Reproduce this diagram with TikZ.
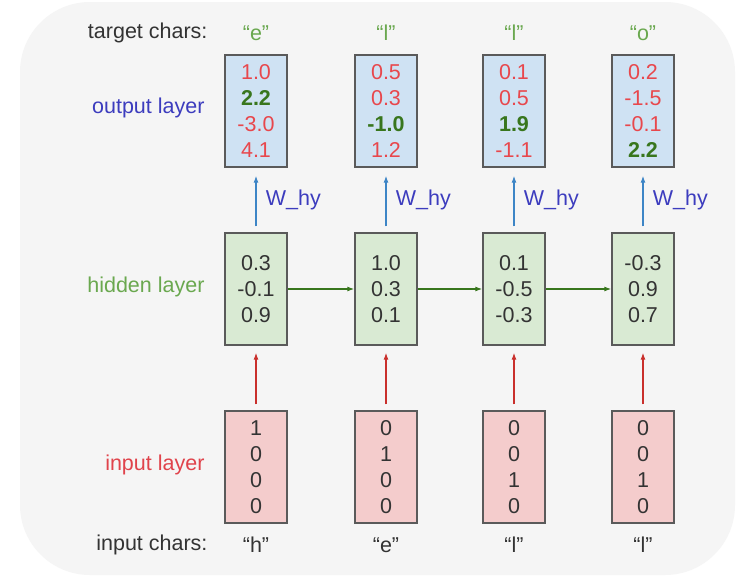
\documentclass[tikz,border=0pt]{standalone}
\usepackage{fontspec}
\setmainfont{Liberation Sans}
\usetikzlibrary{arrows.meta}
\definecolor{bggray}{HTML}{F5F5F5}
\definecolor{boxline}{HTML}{5A5A5A}
\definecolor{outfill}{HTML}{CFE2F3}
\definecolor{hidfill}{HTML}{D9EAD3}
\definecolor{infill}{HTML}{F4CCCC}
\definecolor{numred}{HTML}{E8474C}
\definecolor{numgreen}{HTML}{38761D}
\definecolor{labblue}{HTML}{3C3CBE}
\definecolor{labgreen}{HTML}{6AA84F}
\definecolor{labred}{HTML}{E0434B}
\definecolor{arrblue}{HTML}{3D85C6}
\definecolor{arrred}{HTML}{C9302C}
\definecolor{txtgray}{HTML}{333333}
\newcommand{\rn}[1]{\textcolor{numred}{#1}}
\newcommand{\gn}[1]{\textcolor{numgreen}{\textbf{#1}}}

\begin{document}
\begin{tikzpicture}[x=1pt,y=-1pt,
  font=\fontsize{21.5}{26}\selectfont, text=txtgray,
  vecbox/.style={draw=boxline, line width=1.4pt, minimum width=62pt, minimum height=112pt, inner sep=0pt, align=center},
  outbox/.style={vecbox, fill=outfill},
  hidbox/.style={vecbox, fill=hidfill},
  inbox/.style={vecbox, fill=infill},
  rowlab/.style={anchor=east},
  wlab/.style={text=labblue, anchor=west},
  tip/.style={-{Latex[length=7pt,width=5pt]}, line width=1.1pt}]
\useasboundingbox (0,0) rectangle (750,584);
\fill[white] (0,0) rectangle (750,584);
\fill[bggray, rounded corners=70pt] (20,2) rectangle (735,575);

% output layer
\node[outbox] (out1) at (256,111) {\rn{1.0}\\\gn{2.2}\\\rn{-3.0}\\\rn{4.1}};
\node[outbox] (out2) at (386,111) {\rn{0.5}\\\rn{0.3}\\\gn{-1.0}\\\rn{1.2}};
\node[outbox] (out3) at (514,111) {\rn{0.1}\\\rn{0.5}\\\gn{1.9}\\\rn{-1.1}};
\node[outbox] (out4) at (643,111) {\rn{0.2}\\\rn{-1.5}\\\rn{-0.1}\\\gn{2.2}};

% hidden layer
\node[hidbox] (hid1) at (256,289) {0.3\\-0.1\\0.9};
\node[hidbox] (hid2) at (386,289) {1.0\\0.3\\0.1};
\node[hidbox] (hid3) at (514,289) {0.1\\-0.5\\-0.3};
\node[hidbox] (hid4) at (643,289) {-0.3\\0.9\\0.7};

% input layer
\node[inbox] (in1) at (256,467) {1\\0\\0\\0};
\node[inbox] (in2) at (386,467) {0\\1\\0\\0};
\node[inbox] (in3) at (514,467) {0\\0\\1\\0};
\node[inbox] (in4) at (643,467) {0\\0\\1\\0};

% chars
\node[rowlab] (tlab) at (211,33) {target chars:};
\node[text=labgreen] (t1) at (256,33) {“e”};
\node[text=labgreen] (t2) at (386,33) {“l”};
\node[text=labgreen] (t3) at (514,33) {“l”};
\node[text=labgreen] (t4) at (643,33) {“o”};
\node[rowlab] (ilab) at (211,545) {input chars:};
\node (c1) at (256,545) {“h”};
\node (c2) at (386,545) {“e”};
\node (c3) at (514,545) {“l”};
\node (c4) at (643,545) {“l”};

% layer names
\node[rowlab, text=labblue] (olayer) at (208,108) {output layer};
\node[rowlab, text=labgreen] (hlayer) at (208,287) {hidden layer};
\node[rowlab, text=labred] (ilayer) at (208,465) {input layer};

% connectors
\foreach \i in {1,...,4}{
  \draw[tip, arrblue, shorten <=6pt, shorten >=8pt] (hid\i) -- (out\i)
    node[wlab, midway, xshift=6pt] {W\_hy};
  \draw[tip, arrred, shorten <=6pt, shorten >=7pt] (in\i) -- (hid\i);
}
\draw[tip, numgreen] (hid1) -- (hid2);
\draw[tip, numgreen] (hid2) -- (hid3);
\draw[tip, numgreen] (hid3) -- (hid4);
\end{tikzpicture}
\end{document}
